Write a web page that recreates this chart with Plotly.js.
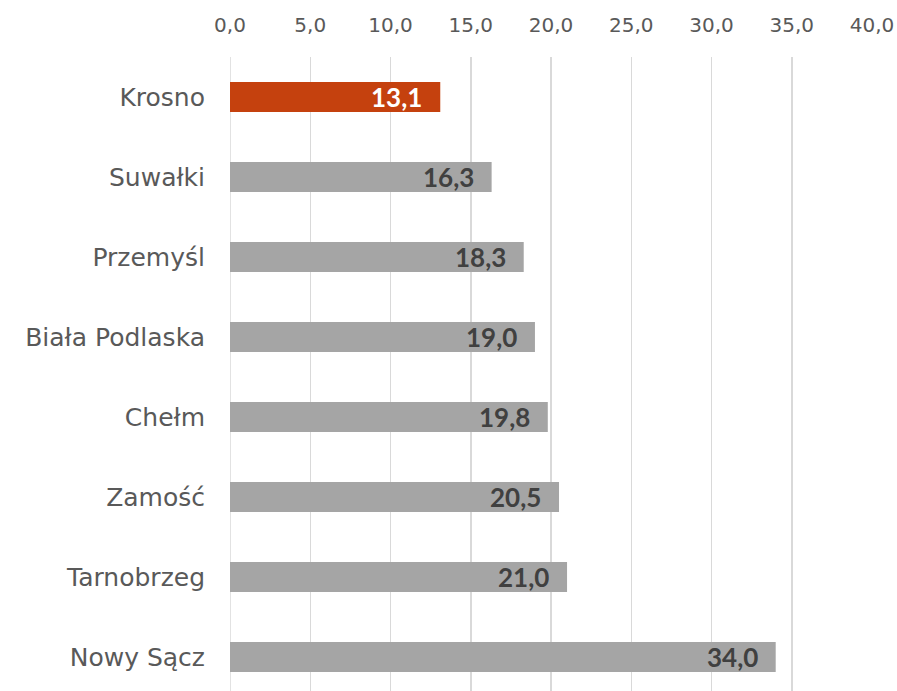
<!DOCTYPE html>
<html><head><meta charset="utf-8">
<script src="https://cdn.plot.ly/plotly-3.0.1.min.js"></script>
<style>html,body{margin:0;padding:0;background:#fff}</style>
</head><body>
<div id="chart" style="width:897px;height:691px"></div>
<script>
var categories = ["Krosno","Suwałki","Przemyśl","Biała Podlaska","Chełm","Zamość","Tarnobrzeg","Nowy Sącz"];
var values = [13.1,16.3,18.3,19.0,19.8,20.5,21.0,34.0];
var highlight = "Krosno";
var xTicks = [0,5,10,15,20,25,30,35,40];

var colors = categories.map(function(c){return c===highlight ? "#C5410E" : "#A5A5A5";});
var fmt = function(v){return v.toFixed(1).replace(".", ",");};

var trace = {
  type: "bar", orientation: "h",
  y: categories, x: values,
  marker: {color: colors},
  width: 0.375,
  hoverinfo: "none"
};

var annotations = categories.map(function(c,i){
  return {
    x: values[i], y: c, xref: "x", yref: "y",
    text: fmt(values[i]), showarrow: false,
    xanchor: "right", yanchor: "middle", xshift: -16,
    font: {family: "Lato, 'Open Sans', sans-serif", size: 26, color: c===highlight ? "#FFFFFF" : "#404040", weight: 700}
  };
});

var layout = {
  width: 897, height: 691,
  margin: {l: 230, r: 25, t: 57, b: 0},
  paper_bgcolor: "#fff", plot_bgcolor: "#fff",
  separators: ",.",
  showlegend: false,
  xaxis: {
    side: "top", range: [0, 40], tickvals: xTicks,
    ticktext: xTicks.map(fmt),
    showgrid: true, gridcolor: "#D9D9D9", gridwidth: 1.5,
    zeroline: false, showline: false, ticks: "",
    tickfont: {family: "'DejaVu Sans', sans-serif", size: 20, color: "#595959"},
    ticklabelstandoff: 20
  },
  yaxis: {
    type: "category", range: [7.425, -0.5],
    showgrid: false, zeroline: false, showline: false, ticks: "",
    tickfont: {family: "'DejaVu Sans', sans-serif", size: 25, color: "#595959"},
    ticklabelstandoff: 24
  },
  shapes: [{type:"line", xref:"x", yref:"paper", x0:0, x1:0, y0:0, y1:1, line:{color:"#D9D9D9", width:1.5}, layer:"below"}],
  annotations: annotations
};

Plotly.newPlot("chart", [trace], layout, {displayModeBar: false, staticPlot: true});
</script>
</body></html>
